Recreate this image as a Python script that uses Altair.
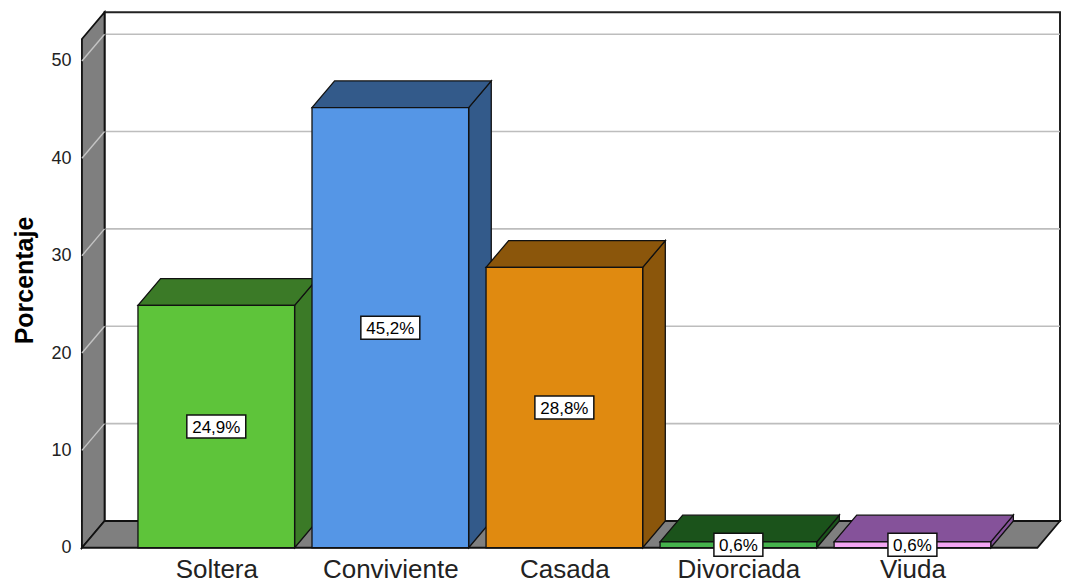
import json
import altair as alt
import pandas as pd

# ---- data ----
categories = ["Soltera", "Conviviente", "Casada", "Divorciada", "Viuda"]
percent = [24.9, 45.2, 28.8, 0.6, 0.6]
value_labels = ["24,9%", "45,2%", "28,8%", "0,6%", "0,6%"]
front_colors = ["#5ec43a", "#5596e6", "#e08a10", "#45b24c", "#f2a6f2"]
depth_colors = ["#3b7a27", "#335a8a", "#8b560b", "#1b531b", "#85529a"]
y_ticks = [0, 10, 20, 30, 40, 50]
grid_values = [10, 20, 30, 40, 50]

# ---- layout constants (category-step units / percent units) ----
W = 979            # plot width in px
STEP = 174.2       # px per category step
HW = 0.45          # half bar width
DX = 0.13          # 3D depth, x
DY = 2.75          # 3D depth, y
XL = -0.772        # front-left edge of plot
XBR = XL + W / STEP  # back-right edge of plot
XR = XBR - DX        # front-right edge
YTOP = 55.0
FONT = "Liberation Sans"

xs = alt.Scale(domain=[XL, XBR], nice=False, zero=False)
ys = alt.Scale(domain=[0, YTOP], nice=False, zero=False)

idx = list(range(len(categories)))
label_expr = json.dumps(categories) + "[round(datum.value)]"

XAX = alt.Axis(values=idx, labelExpr=label_expr, grid=False, domain=False, ticks=False,
               labelFont=FONT, labelFontSize=26, labelColor="#222", labelPadding=9, title=None)
YAX = alt.Axis(values=y_ticks, grid=False, domain=False, ticks=False,
               labelFont=FONT, labelFontSize=18, labelColor="#222", labelPadding=11,
               title="Porcentaje", titleFont=FONT, titleFontSize=25, titleFontWeight="bold",
               titleColor="black", titlePadding=13)


def X(f):
    return alt.X(f, scale=xs, axis=XAX, title=None)


def Y(f):
    return alt.Y(f, scale=ys, axis=YAX, title="Porcentaje")


bars = pd.DataFrame({
    "cat": categories, "i": idx, "v": percent, "lab": value_labels,
    "front": front_colors, "depth": depth_colors,
})
bars["x0"] = bars["i"] - HW
bars["x1"] = bars["i"] + HW
bars["zero"] = 0.0
bars["mid"] = bars["v"] / 2
bars["n"] = bars["lab"].str.len().astype(str)

top_rows, side_rows = [], []
for c, i, v, col in zip(categories, idx, percent, depth_colors):
    x0, x1 = i - HW, i + HW
    for xx, ya, yb in [(x0, v, v), (x0 + DX, v, v + DY), (x1, v, v + DY), (x1 + DX, v + DY, v + DY)]:
        top_rows.append({"cat": c, "x": xx, "y": ya, "y2": yb, "col": col})
    for xx, ya, yb in [(x1, 0, v), (x1 + DX, DY, v + DY)]:
        side_rows.append({"cat": c, "x": xx, "y": ya, "y2": yb, "col": col})
tops = pd.DataFrame(top_rows)
sides = pd.DataFrame(side_rows)

wall = pd.DataFrame({"x": [XL, XL + DX], "y": [0, DY], "y2": [YTOP - DY, YTOP]})
floor = pd.DataFrame({"x": [XL, XL + DX, XR, XBR], "y": [0, 0, 0, DY], "y2": [0, DY, DY, DY]})
back = pd.DataFrame({"x": [XL + DX], "x2": [XBR], "y": [DY], "y2": [YTOP]})
grid = pd.DataFrame({"v": grid_values})
grid["yb"] = grid["v"] + DY
grid["xa"] = XL
grid["xb"] = XL + DX
grid["xr"] = XBR

# ---- layers ----
back_wall = alt.Chart(back).mark_rect(fill="white", stroke="#222", strokeWidth=2).encode(
    x=X("x:Q"), x2="x2:Q", y=Y("y:Q"), y2="y2:Q")

back_grid = alt.Chart(grid).mark_rule(color="#bdbdbd", strokeWidth=1.6).encode(
    x=X("xb:Q"), x2="xr:Q", y=Y("yb:Q"))

left_wall = alt.Chart(wall).mark_area(fill="#7f7f7f", stroke="#111", strokeWidth=1.8).encode(
    x=X("x:Q"), y=Y("y:Q"), y2="y2:Q")

wall_grid = alt.Chart(grid).mark_rule(color="#c4c4c4", strokeWidth=1.4).encode(
    x=X("xa:Q"), x2="xb:Q", y=Y("v:Q"), y2="yb:Q")

floor_l = alt.Chart(floor).mark_area(fill="#7f7f7f", stroke="#111", strokeWidth=1.8).encode(
    x=X("x:Q"), y=Y("y:Q"), y2="y2:Q")

side_l = alt.Chart(sides).mark_area(stroke="#111", strokeWidth=1.3).encode(
    x=X("x:Q"), y=Y("y:Q"), y2="y2:Q",
    fill=alt.Fill("col:N", scale=None), detail="cat:N")

top_l = alt.Chart(tops).mark_area(stroke="#111", strokeWidth=1.3).encode(
    x=X("x:Q"), y=Y("y:Q"), y2="y2:Q",
    fill=alt.Fill("col:N", scale=None), detail="cat:N")

front_l = alt.Chart(bars).mark_rect(stroke="#111", strokeWidth=1.3).encode(
    x=X("x0:Q"), x2="x1:Q", y=Y("v:Q"), y2="zero:Q",
    fill=alt.Fill("front:N", scale=None))

path5 = "M-1.18,-0.46H1.18V0.46H-1.18Z"
path4 = "M-0.98,-0.46H0.98V0.46H-0.98Z"
box_l = alt.Chart(bars).mark_point(filled=True, fill="white", stroke="#111", strokeWidth=1.5,
                                   opacity=1, size=2500).encode(
    x=X("i:Q"), y=Y("mid:Q"),
    shape=alt.Shape("n:N", scale=alt.Scale(domain=["4", "5"], range=[path4, path5]), legend=None))

text_l = alt.Chart(bars).mark_text(font=FONT, fontSize=17, color="black", baseline="middle", dy=1).encode(
    x=X("i:Q"), y=Y("mid:Q"), text="lab:N")

chart = alt.layer(
    back_wall, back_grid, left_wall, wall_grid, floor_l, side_l, top_l, front_l, box_l, text_l
).properties(
    width=W, height=536, background="white",
    padding={"left": 4, "top": 0, "right": 0, "bottom": 0},
).configure_view(strokeWidth=0)

chart.save("out.html", embed_options={"renderer": "svg", "actions": False})
